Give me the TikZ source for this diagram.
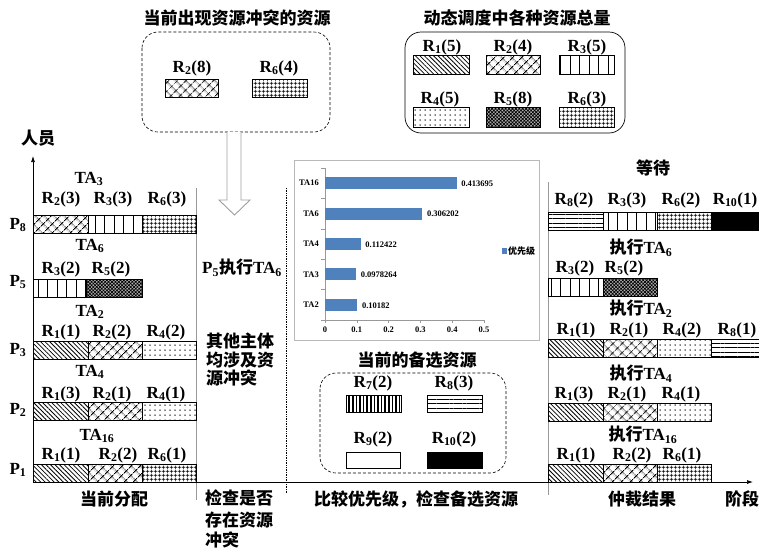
\documentclass[tikz,border=0pt]{standalone}
\usepackage{fontspec}
\setmainfont{Liberation Serif}
\newfontfamily\cjkfont{Noto Sans CJK SC}
\usetikzlibrary{patterns.meta,arrows.meta}
\newcommand\rs[1]{\textsubscript{#1}}
\definecolor{barblue}{HTML}{4F81BD}
\tikzset{
 lab/.style={font=\fontsize{17}{19}\selectfont\bfseries, inner sep=0pt},
 cj/.style={font=\fontsize{17}{21}\selectfont\cjkfont\bfseries, inner sep=0pt},
 chart/.style={font=\fontsize{8.5}{10}\selectfont\bfseries, inner sep=0pt},
 seg/.style={draw=black, line width=0.8pt},
 r1/.style={seg, pattern={Lines[angle=-45,distance=3.2pt,line width=0.8pt]}},
 r2/.style={seg, pattern={Hatch[angle=45,distance=6.5pt,line width=0.9pt]}},
 r3/.style={seg, pattern={Lines[angle=90,distance=9.5pt,line width=0.9pt]}},
 r4/.style={seg, pattern={Dots[distance=5pt,radius=0.75pt]}},
 r5/.style={seg, preaction={fill=gray!60}, pattern={Hatch[angle=45,distance=2.4pt,line width=0.7pt]}},
 r6/.style={seg, pattern={Hatch[angle=0,distance=4pt,line width=0.85pt]}},
 r7/.style={seg, pattern={Lines[angle=90,distance=3.6pt,line width=1.5pt]}},
 r8/.style={seg, pattern={Lines[angle=0,distance=4.3pt,line width=1pt]}},
 r9/.style={seg, fill=white},
 r10/.style={seg, fill=black},
 sep/.style={gray!80, line width=0.6pt},
 axis/.style={line width=0.7pt, -{Latex[length=6pt,width=4pt]}},
}
\begin{document}
\begin{tikzpicture}[x=1pt,y=-1pt]
\useasboundingbox (0,0) rectangle (759,550);

% ---------- top-left: conflicting resources ----------
\node[cj] (t1) at (237,18) {当前出现资源冲突的资源};
\draw[densely dashed, line width=0.6pt, rounded corners=16pt] (142,32) rectangle (330,132);
\node[lab] (c2) at (192,68) {R\rs{2}(8)};
\node[lab] (c6) at (279,68) {R\rs{6}(4)};
\path[r2] (165,79) rectangle (218,97);
\path[r6] (252,79) rectangle (307,97);
\draw[gray!75, line width=0.9pt, fill=white] (227,132) -- (227,200) -- (219,200) -- (234.5,215) -- (250,200) -- (241,200) -- (241,132);

% ---------- top-right: totals ----------
\node[cj] (t2) at (517,18) {动态调度中各种资源总量};
\draw[line width=0.7pt, rounded corners=16pt] (405,32) rectangle (625,133);
\node[lab] (l1) at (442,47) {R\rs{1}(5)};
\node[lab] (l2) at (513,47) {R\rs{2}(4)};
\node[lab] (l3) at (587,47) {R\rs{3}(5)};
\node[lab] (l4) at (440,99) {R\rs{4}(5)};
\node[lab] (l5) at (513,99) {R\rs{5}(8)};
\node[lab] (l6) at (587,99) {R\rs{6}(3)};
\path[r1] (413,55) rectangle (469,74);
\path[r2] (486,55) rectangle (540,74);
\path[r3] (559,55) rectangle (614,74);
\path[r4] (413,107) rectangle (469,127);
\path[r5] (486,107) rectangle (540,127);
\path[r6] (559,107) rectangle (614,127);

% ---------- axes ----------
\coordinate (o) at (33,482);
\coordinate (ytip) at (33,156);
\coordinate (xtip) at (753,482);
\draw[axis] (o) -- (ytip);
\draw[axis] (o) -- (xtip);
\node[cj] (yl) at (38,138) {人员};
\node[cj] (xl) at (742,499) {阶段};

% ---------- separators ----------
\draw[sep] (196,188) -- (196,500);
\draw[densely dotted, line width=0.7pt] (286,188) -- (286,493);
\draw[sep] (548,182) -- (548,495);

% ---------- left panel ----------
\node[lab] (p8) at (18,225) {P\rs{8}};
\node[lab] (p5) at (18,282) {P\rs{5}};
\node[lab] (p3) at (18,350) {P\rs{3}};
\node[lab] (p2) at (18,410) {P\rs{2}};
\node[lab] (p1) at (18,470) {P\rs{1}};

\node[lab] (ta3) at (89,179) {TA\rs{3}};
\node[lab] (a1) at (61,199) {R\rs{2}(3)};
\node[lab] (a2) at (113,199) {R\rs{3}(3)};
\node[lab] (a3) at (167,199) {R\rs{6}(3)};
\path[r2] (33,215) rectangle (88,233);
\path[r3] (88,215) rectangle (142,233);
\path[r6] (142,215) rectangle (196,233);

\node[lab] (ta6) at (90,246) {TA\rs{6}};
\node[lab] (b1) at (61,269) {R\rs{3}(2)};
\node[lab] (b2) at (111,269) {R\rs{5}(2)};
\path[r3] (33,279) rectangle (86,297);
\path[r5] (86,279) rectangle (142,297);

\node[lab] (ta2) at (90,312) {TA\rs{2}};
\node[lab] (c1) at (61,332) {R\rs{1}(1)};
\node[lab] (cc2) at (112,332) {R\rs{2}(2)};
\node[lab] (c3) at (166,332) {R\rs{4}(2)};
\path[r1] (33,341) rectangle (88,359);
\path[r2] (88,341) rectangle (142,359);
\path[r4] (142,341) rectangle (196,359);

\node[lab] (ta4) at (90,372) {TA\rs{4}};
\node[lab] (d1) at (61,394) {R\rs{1}(3)};
\node[lab] (d2) at (112,394) {R\rs{2}(1)};
\node[lab] (d3) at (166,394) {R\rs{4}(1)};
\path[r1] (33,402) rectangle (88,420);
\path[r2] (88,402) rectangle (142,420);
\path[r4] (142,402) rectangle (196,420);

\node[lab] (ta16) at (97,436) {TA\rs{16}};
\node[lab] (e1) at (61,455) {R\rs{1}(1)};
\node[lab] (e2) at (118,455) {R\rs{2}(2)};
\node[lab] (e3) at (167,455) {R\rs{6}(1)};
\path[r1] (33,464) rectangle (88,482);
\path[r2] (88,464) rectangle (142,482);
\path[r6] (142,464) rectangle (196,482);

\node[cj] (s1) at (114,499) {当前分配};

% ---------- middle-left panel ----------
\node[lab] (p5x) at (242,268) {P\rs{5}{\cjkfont 执行}TA\rs{6}};
\node[cj, anchor=west] (o1) at (206,341) {其他主体};
\node[cj, anchor=west] (o2) at (206,360) {均涉及资};
\node[cj, anchor=west] (o3) at (206,378) {源冲突};
\node[cj, anchor=west] (s2a) at (205,498) {检查是否};
\node[cj, anchor=west] (s2b) at (205,520) {存在资源};
\node[cj, anchor=west] (s2c) at (205,540) {冲突};

% ---------- chart ----------
\draw[gray!55, line width=0.8pt, fill=white] (294,160) rectangle (539,340);
\draw[gray!80, line width=0.6pt] (325,168) -- (325,320) -- (484,320);
\foreach \i/\t in {0/0,1/0.1,2/0.2,3/0.3,4/0.4,5/0.5}{
  \draw[gray!80, line width=0.6pt] ({325+31.8*\i},320) -- ++(0,3);
  \node[chart] (xt\i) at ({325+31.8*\i},330) {\t};
}
\foreach \j in {0,...,5}{
  \draw[gray!80, line width=0.6pt] (321,{168+30.4*\j}) -- (325,{168+30.4*\j});
}
\foreach \n/\v/\k in {TA16/0.413695/0,TA6/0.306202/1,TA4/0.112422/2,TA3/0.0978264/3,TA2/0.10182/4}{
  \path[fill=barblue] (325,{177.2+30.4*\k}) rectangle ++({\v*318},12);
  \node[chart, anchor=east] (cat\k) at (319,{183.2+30.4*\k}) {\n};
  \node[chart, anchor=west] (val\k) at ({325+\v*318+4.5},{183.7+30.4*\k}) {\v};
}
\fill[barblue] (502,248) rectangle (507,254);
\node[font=\fontsize{9}{10}\selectfont\cjkfont\bfseries, inner sep=0pt, anchor=west] (leg) at (508,251) {优先级};

% ---------- candidate resources ----------
\node[cj] (t3) at (417,360) {当前的备选资源};
\draw[densely dashed, line width=0.6pt, rounded corners=16pt] (320,373) rectangle (506,473);
\node[lab] (k7) at (373,383) {R\rs{7}(2)};
\node[lab] (k8) at (454,383) {R\rs{8}(3)};
\node[lab] (k9) at (373,439) {R\rs{9}(2)};
\node[lab] (k10) at (454,439) {R\rs{10}(2)};
\path[r7] (346,395) rectangle (401,412);
\path[r8] (427,395) rectangle (482,412);
\path[r9] (346,452) rectangle (400,468);
\path[r10] (427,452) rectangle (482,468);
\node[cj] (s3) at (416,499) {比较优先级，检查备选资源};

% ---------- right panel ----------
\node[cj] (w) at (653,168) {等待};
\node[lab] (f1) at (574,200) {R\rs{8}(2)};
\node[lab] (f2) at (627,200) {R\rs{3}(3)};
\node[lab] (f3) at (681,200) {R\rs{6}(2)};
\node[lab] (f4) at (735,200) {R\rs{10}(1)};
\path[r8] (548,212) rectangle (603,230);
\path[r3] (603,212) rectangle (657,230);
\path[r6] (657,212) rectangle (711,230);
\path[r10] (711,212) rectangle (760,230);

\node[lab] (x6) at (641,248) {{\cjkfont 执行}TA\rs{6}};
\node[lab] (g1) at (575,268) {R\rs{3}(2)};
\node[lab] (g2) at (624,268) {R\rs{5}(2)};
\path[r3] (548,278) rectangle (603,296);
\path[r5] (603,278) rectangle (657,296);

\node[lab] (x2) at (641,309) {{\cjkfont 执行}TA\rs{2}};
\node[lab] (h1) at (576,330) {R\rs{1}(1)};
\node[lab] (h2) at (629,330) {R\rs{2}(1)};
\node[lab] (h3) at (682,330) {R\rs{4}(2)};
\node[lab] (h4) at (737,330) {R\rs{8}(1)};
\path[r1] (548,339) rectangle (603,357);
\path[r2] (603,339) rectangle (657,357);
\path[r4] (657,339) rectangle (711,357);
\path[r8] (711,339) rectangle (760,357);

\node[lab] (x4) at (641,374) {{\cjkfont 执行}TA\rs{4}};
\node[lab] (i1) at (574,394) {R\rs{1}(3)};
\node[lab] (i2) at (627,394) {R\rs{2}(1)};
\node[lab] (i3) at (681,394) {R\rs{4}(1)};
\path[r1] (548,403) rectangle (603,421);
\path[r2] (603,403) rectangle (657,421);
\path[r4] (657,403) rectangle (711,421);

\node[lab] (x16) at (643,435) {{\cjkfont 执行}TA\rs{16}};
\node[lab] (j1) at (576,455) {R\rs{1}(1)};
\node[lab] (j2) at (632,455) {R\rs{2}(2)};
\node[lab] (j3) at (682,455) {R\rs{6}(1)};
\path[r1] (548,464) rectangle (603,482);
\path[r2] (603,464) rectangle (657,482);
\path[r6] (657,464) rectangle (711,482);

\node[cj] (s4) at (642,499) {仲裁结果};
\end{tikzpicture}
\end{document}
